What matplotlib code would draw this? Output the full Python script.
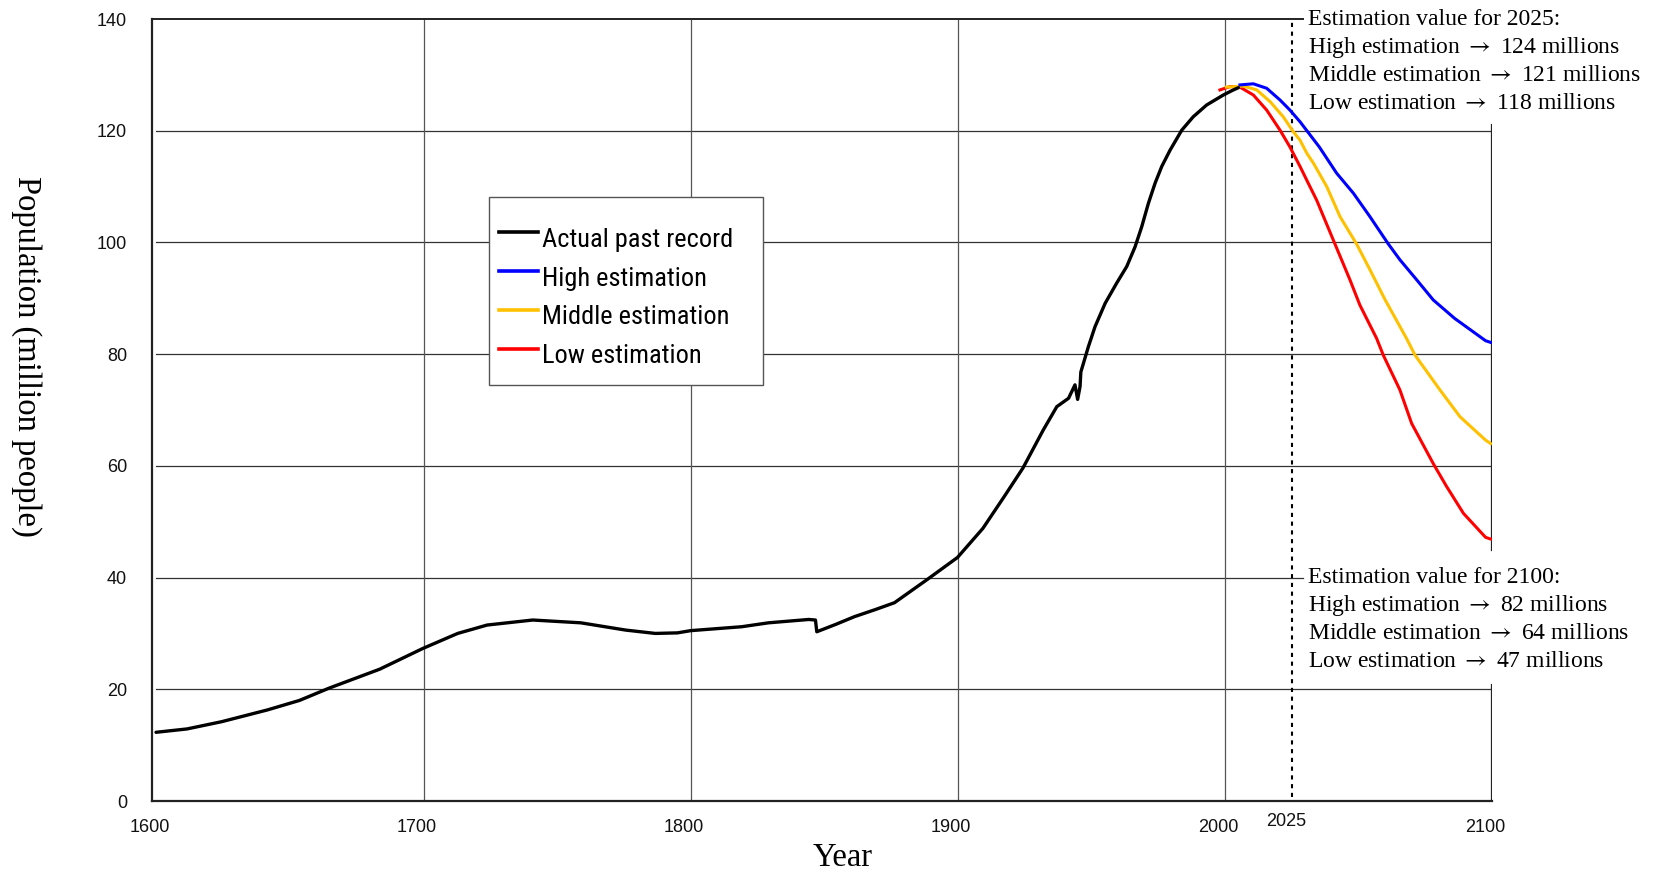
import matplotlib
matplotlib.use("Agg")
import matplotlib.pyplot as plt
from matplotlib import font_manager
from matplotlib.font_manager import FontProperties
from matplotlib.transforms import ScaledTranslation, blended_transform_factory
from matplotlib.lines import Line2D
from matplotlib.patches import Rectangle

# ---------------- data ----------------
actual_years = [1599.6, 1611.2, 1624.2, 1641.3, 1653.3, 1664.4, 1683.4, 1699.5,
                1712.6, 1723.6, 1740.7, 1758.7, 1775.5, 1786.6, 1794.9, 1799.9,
                1819, 1829, 1844.1, 1846.6, 1847.1, 1854.1, 1861.2, 1869.2,
                1876.2, 1888.3, 1899.8, 1909.3, 1917.3, 1924.3, 1931.9, 1937,
                1941.4, 1943.8, 1944.8, 1945.7, 1946, 1948.8, 1951.3, 1955.1,
                1959.4, 1963.2, 1966.3, 1968.8, 1971.3, 1973.8, 1976.3, 1979.4,
                1983.8, 1988.1, 1993.1, 1999.4, 2003.1, 2005]
actual_pop = [12.3, 12.9, 14.2, 16.3, 18.0, 20.2, 23.6, 27.3,
              30.0, 31.5, 32.4, 31.9, 30.6, 30.0, 30.1, 30.5,
              31.2, 31.9, 32.5, 32.4, 30.3, 31.6, 33.0, 34.3,
              35.5, 39.6, 43.6, 48.8, 54.5, 59.6, 66.4, 70.6,
              72.1, 74.5, 71.9, 74.2, 76.8, 81.3, 84.9, 89.1,
              92.7, 95.7, 99.2, 102.8, 107.0, 110.6, 113.6, 116.5,
              120.1, 122.5, 124.6, 126.4, 127.3, 127.7]

high_years = [2005.6, 2010.6, 2015.6, 2020.6, 2024.3, 2028.1, 2035.3, 2041.8,
              2048.1, 2054.3, 2061.2, 2065.5, 2071.8, 2078, 2086, 2097.6, 2099.5]
high_pop = [128.2, 128.4, 127.6, 125.5, 123.7, 121.6, 117.1, 112.4,
            108.8, 104.6, 99.7, 96.9, 93.3, 89.7, 86.4, 82.4, 82.1]

mid_years = [2000.5, 2006.9, 2011.9, 2016.9, 2021.8, 2025.6, 2028.1, 2030.6,
             2033.1, 2038.1, 2043.1, 2049.3, 2054.3, 2060, 2068, 2071.2,
             2080.5, 2088, 2097.6, 2099.5]
mid_pop = [127.8, 128.0, 127.3, 125.2, 122.5, 119.8, 118.3, 116.0,
           114.2, 110.0, 104.6, 99.7, 95.1, 89.7, 82.8, 79.8,
           73.6, 68.8, 64.6, 64.0]

low_years = [1998.1, 2001.9, 2005.6, 2010.6, 2015.6, 2020.6, 2024.3, 2028.1,
             2031.8, 2034.3, 2041.2, 2046.8, 2050.5, 2056.8, 2059.3, 2065.5,
             2069.9, 2078, 2083, 2089.3, 2097.6, 2099.5]
low_pop = [127.3, 127.9, 127.8, 126.4, 123.7, 120.1, 117.1, 113.6,
           110.0, 107.6, 99.7, 93.3, 88.8, 82.8, 79.8, 73.6,
           67.6, 60.4, 56.3, 51.5, 47.2, 46.9]

series_labels = ["Actual past record", "High estimation", "Middle estimation", "Low estimation"]
series_colors = ["#000000", "#0000FF", "#FFC000", "#FF0000"]

x_ticks = [1600, 1700, 1800, 1900, 2000, 2100]
y_ticks = [0, 20, 40, 60, 80, 100, 120, 140]
marker_year = 2025

note_2025 = ["Estimation value for 2025:",
             "High estimation $\\rightarrow$ 124 millions",
             "Middle estimation $\\rightarrow$ 121 millions",
             "Low estimation $\\rightarrow$ 118 millions"]
note_2100 = ["Estimation value for 2100:",
             "High estimation $\\rightarrow$ 82 millions",
             "Middle estimation $\\rightarrow$ 64 millions",
             "Low estimation $\\rightarrow$ 47 millions"]

# ---------------- fonts ----------------
sans = ["Liberation Sans", "Arial", "DejaVu Sans"]
serif = ["Liberation Serif", "DejaVu Serif"]
plt.rcParams["font.family"] = sans
plt.rcParams["mathtext.fontset"] = "stix"


def find_narrow():
    prefs = ["Liberation Sans Narrow", "Arial Narrow", "Roboto Condensed",
             "Open Sans Condensed", "Noto Sans Condensed", "DejaVu Sans Condensed",
             "DejaVu Sans"]
    cands = []
    for f in font_manager.fontManager.ttflist:
        nm = f.name
        if "Mono" in nm or "Serif" in nm:
            continue
        narrow = ("Narrow" in nm or "Condensed" in nm or
                  f.stretch in ("condensed", "semi-condensed", "extra-condensed") or
                  "Condensed" in f.fname or "Narrow" in f.fname)
        if not narrow:
            continue
        if f.style != "normal":
            continue
        w = f.weight
        if isinstance(w, str):
            ok = w in ("normal", "regular", "book", "400")
        else:
            ok = w == 400
        if not ok:
            continue
        cands.append(f)
    for p in prefs:
        for f in cands:
            if f.name.startswith(p):
                return f
    return cands[0] if cands else None


nf = find_narrow()
if nf is not None and ("Narrow" in nf.name or "Narrow" in nf.fname):
    legend_prop = FontProperties(fname=nf.fname, size=21.5)
elif nf is not None:
    legend_prop = FontProperties(fname=nf.fname, size=19)
else:
    legend_prop = FontProperties(family=sans, size=17)

W, H = 1658, 872
fig = plt.figure(figsize=(W / 100, H / 100), dpi=100)
ax = fig.add_axes([152 / W, 1 - 801 / H, (1492 - 152) / W, (801 - 19) / H])
ax.set_xlim(1598.1, 2100)
ax.set_ylim(0, 140)

grid_col = "#333333"
spine_col = "#222222"
lead_frac = (1303 - 152) / 1340

# grid lines
for yv in y_ticks[1:-1]:
    ax.axhline(yv, xmin=0.003, xmax=lead_frac if yv == 40 else 1,
               color=grid_col, lw=0.9, zorder=1)
for xv in x_ticks[1:-1]:
    ax.axvline(xv, ymin=0, ymax=1, color="#555555", lw=0.9, zorder=1)

# top line (140) leading to the annotation, right border in segments
ax.axhline(140, xmin=0, xmax=lead_frac, color=spine_col, lw=1.4, zorder=2, clip_on=False)
ax.axvline(2100, ymin=(801 - 550) / 782, ymax=(801 - 125) / 782, color=spine_col, lw=1.6, zorder=2)
ax.axvline(2100, ymin=0, ymax=(801 - 685) / 782, color=spine_col, lw=1.6, zorder=2)

# dotted 2025 line
ax.axvline(marker_year, ymin=0.005, ymax=1, color="black", lw=1.5, ls=(0, (2, 2.2)), zorder=2)

for s in ["top", "right"]:
    ax.spines[s].set_visible(False)
for s in ["left", "bottom"]:
    ax.spines[s].set_color(spine_col)
    ax.spines[s].set_linewidth(1.6)

# data lines
ax.plot(actual_years, actual_pop, color=series_colors[0], lw=2.4, zorder=5,
        solid_joinstyle="round", solid_capstyle="round")
ax.plot(low_years, low_pop, color=series_colors[3], lw=2.2, zorder=4, solid_joinstyle="round")
ax.plot(mid_years, mid_pop, color=series_colors[2], lw=2.2, zorder=4, solid_joinstyle="round")
ax.plot(high_years, high_pop, color=series_colors[1], lw=2.2, zorder=4, solid_joinstyle="round")

# ticks
ax.set_xticks(x_ticks)
ax.set_xticklabels([str(v) for v in x_ticks])
ax.set_yticks(y_ticks)
ax.set_yticklabels([str(v) for v in y_ticks])
ax.tick_params(axis="both", length=0, labelsize=13, colors="#111111")
ax.tick_params(axis="x", pad=13)
ax.tick_params(axis="y", pad=18)
for lab in ax.get_xticklabels():
    lab.set_transform(lab.get_transform() + ScaledTranslation(-7 / 100, 0, fig.dpi_scale_trans))

btr = blended_transform_factory(ax.transData, ax.transAxes)
ax.text(marker_year, -0.0256, str(marker_year),
        transform=btr + ScaledTranslation(-6 / 100, 0, fig.dpi_scale_trans),
        ha="center", va="center", fontsize=13, color="#111111")

# axis titles
fig.text(26 / W, 1 - 356 / H, "Population (million people)", rotation=270,
         ha="center", va="center", fontsize=23.5, family=serif)
fig.text(843 / W, 1 - 858 / H, "Year", ha="center", va="center", fontsize=23.5, family=serif)


# annotations
def put_lines(lines, y0):
    for i, t in enumerate(lines):
        ax.text(2031.1, y0 - 1.05 - i * 5.0, t, ha="left", va="baseline", fontsize=17,
                family=serif, clip_on=False)


put_lines(note_2025, 140)
put_lines(note_2100, 40)

# legend (frame + rows)
fig.add_artist(Rectangle((489 / W, 1 - 385 / H), (763 - 489) / W, (385 - 197) / H,
                         transform=fig.transFigure, facecolor="white", edgecolor="#555555",
                         lw=1.0, zorder=10))
baselines = [246.7, 285.7, 324.3, 363.3]
for lab, col, bl in zip(series_labels, series_colors, baselines):
    hy = 1 - (bl - 14.5) / H
    fig.add_artist(Line2D([499 / W, 538 / W], [hy, hy], transform=fig.transFigure,
                          color=col, lw=2.6, zorder=11))
    fig.text(542 / W, 1 - bl / H, lab, ha="left", va="baseline",
             fontproperties=legend_prop, zorder=11)

fig.savefig("out.png", dpi=100)
